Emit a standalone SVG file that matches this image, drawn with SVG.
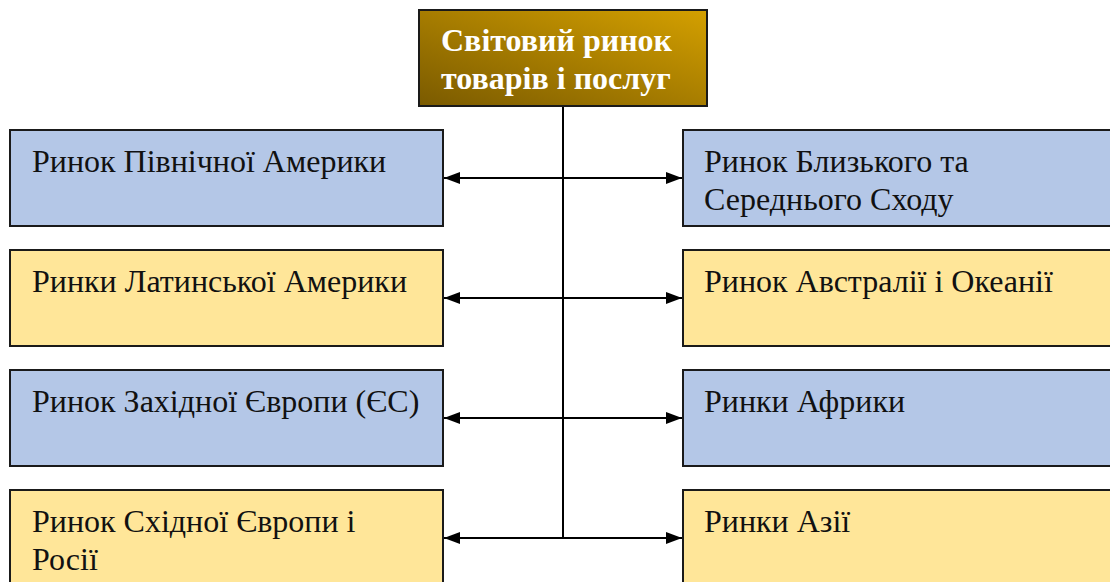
<svg xmlns="http://www.w3.org/2000/svg" width="1110" height="582" viewBox="0 0 1110 582">
  <defs>
    <linearGradient id="gold" x1="0" y1="1" x2="1" y2="0">
      <stop offset="0" stop-color="#7A5A00"/>
      <stop offset="1" stop-color="#D4A000"/>
    </linearGradient>
    <marker id="arrow" viewBox="0 0 16 12" refX="16" refY="6" markerWidth="16" markerHeight="12" markerUnits="userSpaceOnUse" orient="auto-start-reverse">
      <path d="M0,0 L16,6 L0,12 Z" fill="#000"/>
    </marker>
  </defs>
  <style>
    .box { stroke: #1a1a1a; stroke-width: 2; }
    .blue { fill: #B4C7E7; }
    .yellow { fill: #FFE699; }
    .label { font-family: 'Liberation Serif', 'DejaVu Serif', serif; font-size: 32px; fill: #111; }
    .title { font-family: 'Liberation Serif', 'DejaVu Serif', serif; font-size: 32px; font-weight: bold; fill: #fff; }
    .link { stroke: #000; stroke-width: 2; fill: none; }
  </style>

  <rect width="1110" height="582" fill="#fff"/>

  <!-- connectors -->
  <g id="connectors">
    <line class="link" x1="563" y1="106" x2="563" y2="538"/>
    <line class="link" x1="444" y1="178" x2="682" y2="178" marker-start="url(#arrow)" marker-end="url(#arrow)"/>
    <line class="link" x1="444" y1="298" x2="682" y2="298" marker-start="url(#arrow)" marker-end="url(#arrow)"/>
    <line class="link" x1="444" y1="418" x2="682" y2="418" marker-start="url(#arrow)" marker-end="url(#arrow)"/>
    <line class="link" x1="444" y1="538" x2="682" y2="538" marker-start="url(#arrow)" marker-end="url(#arrow)"/>
  </g>

  <!-- central node -->
  <g id="world-market">
    <rect class="box" x="419" y="10" width="288" height="96" fill="url(#gold)"/>
    <text class="title" x="441" y="51">Світовий ринок</text>
    <text class="title" x="441" y="89">товарів і послуг</text>
  </g>

  <!-- left column -->
  <g id="north-america">
    <rect class="box blue" x="10" y="130" width="433" height="96"/>
    <text class="label" x="32" y="172">Ринок Північної Америки</text>
  </g>
  <g id="latin-america">
    <rect class="box yellow" x="10" y="250" width="433" height="96"/>
    <text class="label" x="32" y="292">Ринки Латинської Америки</text>
  </g>
  <g id="western-europe">
    <rect class="box blue" x="10" y="370" width="433" height="96"/>
    <text class="label" x="32" y="412">Ринок Західної Європи (ЄС)</text>
  </g>
  <g id="eastern-europe">
    <rect class="box yellow" x="10" y="490" width="433" height="100"/>
    <text class="label" x="32" y="532">Ринок Східної Європи і</text>
    <text class="label" x="32" y="570">Росії</text>
  </g>

  <!-- right column -->
  <g id="middle-east">
    <rect class="box blue" x="683" y="130" width="440" height="96"/>
    <text class="label" x="704" y="172">Ринок Близького та</text>
    <text class="label" x="704" y="210">Середнього Сходу</text>
  </g>
  <g id="oceania">
    <rect class="box yellow" x="683" y="250" width="440" height="96"/>
    <text class="label" x="704" y="292">Ринок Австралії і Океанії</text>
  </g>
  <g id="africa">
    <rect class="box blue" x="683" y="370" width="440" height="96"/>
    <text class="label" x="704" y="412">Ринки Африки</text>
  </g>
  <g id="asia">
    <rect class="box yellow" x="683" y="490" width="440" height="100"/>
    <text class="label" x="704" y="532">Ринки Азії</text>
  </g>
</svg>
